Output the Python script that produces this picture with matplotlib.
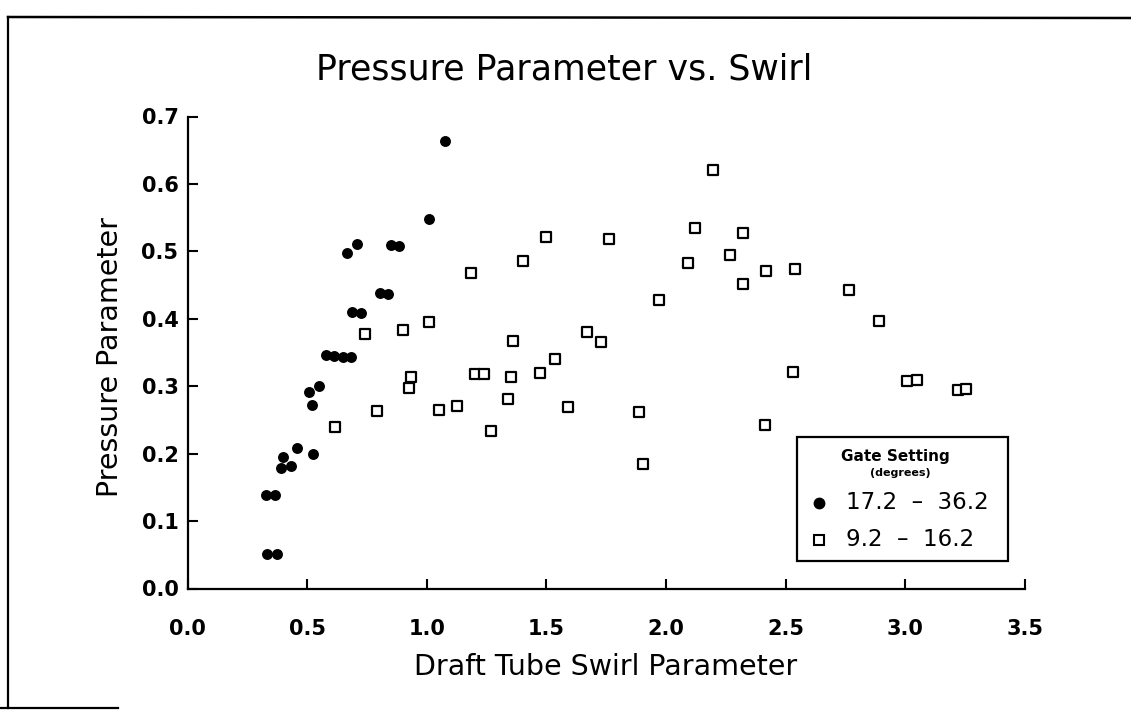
import matplotlib
matplotlib.use("Agg")
import matplotlib.pyplot as plt
from matplotlib.lines import Line2D
from matplotlib.patches import Rectangle

# ---- data ----
high_gate_x = [0.331, 0.373, 0.328, 0.365, 0.390, 0.434, 0.398, 0.456, 0.523,
               0.520, 0.509, 0.548, 0.579, 0.612, 0.649, 0.685, 0.668, 0.707,
               0.688, 0.724, 0.805, 0.838, 0.852, 0.883, 1.011, 1.078]
high_gate_y = [0.051, 0.051, 0.139, 0.139, 0.179, 0.181, 0.195, 0.208, 0.200,
               0.272, 0.291, 0.300, 0.346, 0.345, 0.344, 0.343, 0.498, 0.511,
               0.410, 0.409, 0.438, 0.437, 0.509, 0.508, 0.548, 0.663]

low_gate_x = [0.618, 0.743, 0.791, 0.900, 0.927, 0.936, 1.008, 1.050, 1.125,
              1.184, 1.200, 1.240, 1.268, 1.340, 1.354, 1.360, 1.404, 1.474,
              1.499, 1.535, 1.591, 1.671, 1.727, 1.763, 1.886, 1.906, 1.970,
              2.092, 2.123, 2.198, 2.268, 2.321, 2.321, 2.413, 2.418, 2.530,
              2.538, 2.767, 2.890, 3.010, 3.050, 3.220, 3.256]
low_gate_y = [0.240, 0.378, 0.263, 0.384, 0.298, 0.313, 0.395, 0.264, 0.270,
              0.468, 0.318, 0.318, 0.234, 0.281, 0.313, 0.367, 0.486, 0.320,
              0.522, 0.340, 0.269, 0.381, 0.366, 0.518, 0.262, 0.184, 0.428,
              0.483, 0.535, 0.620, 0.495, 0.527, 0.451, 0.243, 0.471, 0.321,
              0.474, 0.443, 0.396, 0.308, 0.309, 0.294, 0.296]

series_labels = ["17.2  –  36.2", "9.2  –  16.2"]
x_ticks = [0.0, 0.5, 1.0, 1.5, 2.0, 2.5, 3.0, 3.5]
y_ticks = [0.0, 0.1, 0.2, 0.3, 0.4, 0.5, 0.6, 0.7]

title = "Pressure Parameter vs. Swirl"
x_label = "Draft Tube Swirl Parameter"
y_label = "Pressure Parameter"
legend_title = "Gate Setting"
legend_sub = "(degrees)"

# ---- figure ----
plt.rcParams['font.family'] = ['DejaVu Sans']
W, H = 1131, 723
fig = plt.figure(figsize=(W / 100, H / 100), dpi=100)
ax = fig.add_axes([187.5 / W, 1 - 588.5 / H, 837.2 / W, 472.0 / H])

ax.scatter(high_gate_x, high_gate_y, s=62, marker='o', color='black',
           linewidths=0, zorder=3)
for xx, yy in sorted(zip(low_gate_x, low_gate_y)):
    ax.scatter([xx], [yy], s=46, marker='s', facecolors='white',
               edgecolors='black', linewidths=1.6, zorder=3)

ax.set_xlim(0, 3.5)
ax.set_ylim(0, 0.7)
ax.set_xticks(x_ticks)
ax.set_yticks(y_ticks)
ax.set_xticklabels([f"{v:.1f}" for v in x_ticks], fontsize=15, fontweight='bold')
ax.set_yticklabels([f"{v:.1f}" for v in y_ticks], fontsize=15, fontweight='bold')
ax.tick_params(axis='x', direction='in', length=7, width=1.5, pad=22)
ax.tick_params(axis='y', direction='in', length=7.5, width=1.5, pad=6.5)
ax.spines['top'].set_visible(False)
ax.spines['right'].set_visible(False)
for s in ('left', 'bottom'):
    ax.spines[s].set_linewidth(1.6)

ax.set_xlabel(x_label, fontsize=20.5)
ax.xaxis.set_label_coords(0.5, -0.1657)
ax.xaxis.label.set_va('center')
ax.set_ylabel(y_label, fontsize=20.5)
ax.yaxis.set_label_coords(-0.0926, 0.49)
ax.yaxis.label.set_va('center')

fig.text(564 / W, 1 - 69 / H, title, fontsize=25, ha='center', va='center')

# ---- legend box (manual, axes coordinates) ----
ax.add_patch(Rectangle((0.7277, 0.0583), 0.9804 - 0.7277, 0.3203 - 0.0583,
                       transform=ax.transAxes, facecolor='white',
                       edgecolor='black', linewidth=1.6, zorder=5))
ax.text(0.845, 0.2792, legend_title, transform=ax.transAxes, fontsize=11,
        fontweight='bold', ha='center', va='center', zorder=6)
ax.text(0.851, 0.2453, legend_sub, transform=ax.transAxes, fontsize=8,
        fontweight='bold', ha='center', va='center', zorder=6)
ax.add_line(Line2D([0.7547], [0.1818], transform=ax.transAxes, marker='o',
                   markersize=7.5, color='black', linestyle='none', zorder=6))
ax.add_line(Line2D([0.7547], [0.1028], transform=ax.transAxes, marker='s',
                   markersize=6.5, markerfacecolor='white',
                   markeredgecolor='black', markeredgewidth=1.5,
                   linestyle='none', zorder=6))
ax.text(0.7866, 0.1818, series_labels[0], transform=ax.transAxes, fontsize=16.5,
        ha='left', va='center', zorder=6)
ax.text(0.7866, 0.1028, series_labels[1], transform=ax.transAxes, fontsize=16.5,
        ha='left', va='center', zorder=6)

# ---- outer frame of the page ----
fig.add_artist(Line2D([8 / W, 1.0], [1 - 17 / H, 1 - 18 / H],
                      transform=fig.transFigure, color='black', linewidth=1.8))
fig.add_artist(Line2D([8 / W, 8 / W], [1 - 17 / H, 1 - 708 / H],
                      transform=fig.transFigure, color='black', linewidth=1.6))
fig.add_artist(Line2D([0, 118 / W], [1 - 708 / H, 1 - 708 / H],
                      transform=fig.transFigure, color='black', linewidth=1.6))

fig.savefig("out.png", dpi=100, facecolor='white')
